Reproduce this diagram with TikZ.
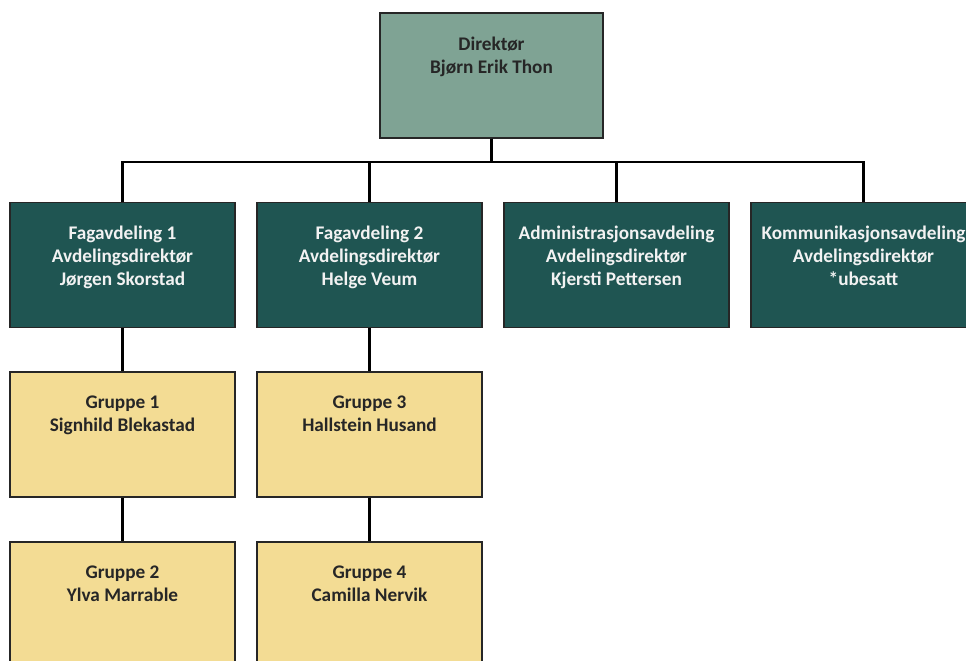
\documentclass[tikz,border=0pt]{standalone}
\usepackage{fontspec}
\setmainfont{Carlito}
\usepackage{tikz}
\usetikzlibrary{shapes,arrows,positioning}

\definecolor{dirgreen}{HTML}{7FA394}
\definecolor{depgreen}{HTML}{1F5552}
\definecolor{grpyellow}{HTML}{F3DC94}
\definecolor{boxline}{HTML}{262626}

\begin{document}
\begin{tikzpicture}[
    node distance=6.175cm,
    box/.style={rectangle, draw=boxline, line width=1pt, minimum width=5.625cm, minimum height=3.125cm, inner sep=0pt},
    boxtext/.style={anchor=north, inner sep=0pt, yshift=-0.6cm, align=center, font=\bfseries\fontsize{13.7}{16.3}\selectfont},
    director/.style={box, fill=dirgreen, minimum width=5.575cm, label={[boxtext, text=black!85]north:#1}},
    dept/.style={box, fill=depgreen, label={[boxtext, text=white!95!black]north:#1}},
    group/.style={box, fill=grpyellow, label={[boxtext, text=black!85]north:#1}},
    link/.style={black, line width=1.5pt}
]
\useasboundingbox (0,0) rectangle (24.15,-16.525);
% Director
\node[director={Direktør\\Bjørn Erik Thon}] (dir) at (12.2875,-1.8875) {};
% Departments
\node[dept={Fagavdeling 1\\Avdelingsdirektør\\Jørgen Skorstad}, below of=dir, node distance=4.7375cm, xshift=-9.225cm] (fag1) {};
\node[dept={Fagavdeling 2\\Avdelingsdirektør\\Helge Veum}, right of=fag1] (fag2) {};
\node[dept={Administrasjonsavdeling\\Avdelingsdirektør\\Kjersti Pettersen}, right of=fag2] (adm) {};
\node[dept={Kommunikasjonsavdeling\\Avdelingsdirektør\\*ubesatt}, right of=adm] (kom) {};
% Groups
\node[group={Gruppe 1\\Signhild Blekastad}, below of=fag1, node distance=4.2375cm] (grp1) {};
\node[group={Gruppe 2\\Ylva Marrable}, below of=grp1, node distance=4.25cm] (grp2) {};
\node[group={Gruppe 3\\Hallstein Husand}, below of=fag2, node distance=4.2375cm] (grp3) {};
\node[group={Gruppe 4\\Camilla Nervik}, below of=grp3, node distance=4.25cm] (grp4) {};
% Lines
\draw[link] (dir.south) -- ++(0,-0.575) -| (fag1.north);
\draw[link] (dir.south) -- ++(0,-0.575) -| (fag2.north);
\draw[link] (dir.south) -- ++(0,-0.575) -| (adm.north);
\draw[link] (dir.south) -- ++(0,-0.575) -| (kom.north);
\draw[link] (fag1.south) -- (grp1.north);
\draw[link] (grp1.south) -- (grp2.north);
\draw[link] (fag2.south) -- (grp3.north);
\draw[link] (grp3.south) -- (grp4.north);
\end{tikzpicture}
\end{document}
